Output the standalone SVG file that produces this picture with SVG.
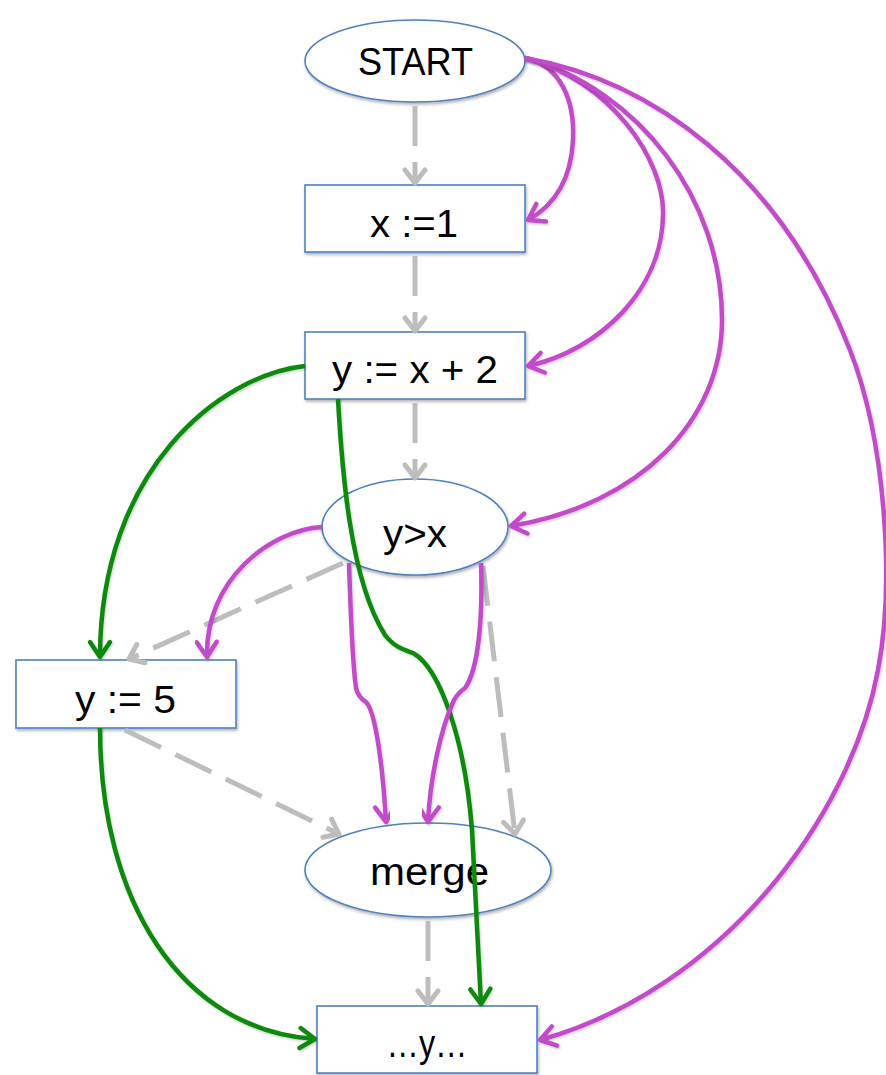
<svg xmlns="http://www.w3.org/2000/svg" width="886" height="1075" viewBox="0 0 886 1075">
  <style>
    .node { fill: #ffffff; stroke: #4f81bd; stroke-width: 1.6; filter: url(#shadow); }
    .label { font-family: "Liberation Sans", Arial, sans-serif; font-size: 38px; fill: #000000; text-anchor: middle; }
    .flow { fill: none; stroke: #bdbdbd; stroke-width: 5; stroke-dasharray: 40 16; marker-end: url(#arrowGray); }
    .def { fill: none; stroke: #0b8a0b; stroke-width: 4.5; marker-end: url(#arrowGreen); filter: url(#lineShadow); }
    .dep { fill: none; stroke: #c24bca; stroke-width: 4.5; marker-end: url(#arrowPurple); filter: url(#lineShadow); }
  </style>
  <defs>
    <filter id="shadow" x="-10%" y="-10%" width="130%" height="140%">
      <feDropShadow dx="1" dy="2" stdDeviation="1.5" flood-color="#000000" flood-opacity="0.3"/>
    </filter>
    <filter id="lineShadow" x="-10%" y="-10%" width="120%" height="120%">
      <feDropShadow dx="1" dy="1.5" stdDeviation="1" flood-color="#000000" flood-opacity="0.2"/>
    </filter>
    <marker id="arrowGray" markerUnits="userSpaceOnUse" viewBox="-18 -14 24 28" markerWidth="24" markerHeight="28" refX="0" refY="0" orient="auto" overflow="visible">
      <path d="M-13,-10 L0,0 L-13,10" fill="none" stroke="#bdbdbd" stroke-width="5" stroke-linecap="round" stroke-linejoin="round" stroke-dasharray="none"/>
    </marker>
    <marker id="arrowGreen" markerUnits="userSpaceOnUse" viewBox="-18 -14 24 28" markerWidth="24" markerHeight="28" refX="0" refY="0" orient="auto" overflow="visible">
      <path d="M-15,-10 L0,0 L-15,10" fill="none" stroke="#0b8a0b" stroke-width="4.5" stroke-linecap="round" stroke-linejoin="round"/>
    </marker>
    <marker id="arrowPurple" markerUnits="userSpaceOnUse" viewBox="-18 -14 24 28" markerWidth="24" markerHeight="28" refX="0" refY="0" orient="auto" overflow="visible">
      <path d="M-15,-10 L0,0 L-15,10" fill="none" stroke="#c24bca" stroke-width="4.5" stroke-linecap="round" stroke-linejoin="round"/>
    </marker>
  </defs>

  <rect x="0" y="0" width="886" height="1075" fill="#ffffff"/>

  <!-- nodes -->
  <g id="start">
    <ellipse class="node" cx="415" cy="61" rx="110" ry="41"/>
    <text class="label" x="415.5" y="75" textLength="115" lengthAdjust="spacingAndGlyphs">START</text>
  </g>
  <g id="assign-x">
    <rect class="node" x="305" y="185" width="220" height="67"/>
    <text class="label" x="414" y="237" textLength="88" lengthAdjust="spacingAndGlyphs">x :=1</text>
  </g>
  <g id="assign-y">
    <rect class="node" x="305" y="332" width="220" height="67"/>
    <text class="label" x="415" y="383" textLength="166" lengthAdjust="spacingAndGlyphs">y := x + 2</text>
  </g>
  <g id="test">
    <ellipse class="node" cx="415" cy="527" rx="93" ry="48"/>
    <text class="label" x="415" y="547" textLength="64" lengthAdjust="spacingAndGlyphs">y&gt;x</text>
  </g>
  <g id="assign-y5">
    <rect class="node" x="16" y="660" width="220" height="68"/>
    <text class="label" x="125.5" y="713" textLength="101" lengthAdjust="spacingAndGlyphs">y := 5</text>
  </g>
  <g id="merge">
    <ellipse class="node" cx="428" cy="870" rx="123" ry="47"/>
    <text class="label" x="429.5" y="885" textLength="119" lengthAdjust="spacingAndGlyphs">merge</text>
  </g>
  <g id="use-y">
    <rect class="node" x="317" y="1006" width="220" height="67"/>
    <text class="label" x="427" y="1057" textLength="81" lengthAdjust="spacingAndGlyphs">…y…</text>
  </g>

  <!-- connectors -->
  <g id="connectors">
    <!-- control flow -->
    <path class="flow" d="M415,106 V183"/>
    <path class="flow" d="M415,256 V331"/>
    <path class="flow" d="M415,403 V478"/>
    <path class="flow" d="M343,563 L129,659"/>
    <path class="flow" d="M483,566 L515,834"/>
    <path class="flow" d="M125,730 L339,834"/>
    <path class="flow" d="M428,921 V1004"/>

    <!-- definition to use -->
    <path class="def" d="M305,366 C220,375 100,470 100,657"/>
    <path class="def" d="M338,399 C342,470 350,580 385,635 C395,648 405,650 413,653 C440,668 465,740 472,830 C476,900 479,960 481,1004"/>
    <path class="def" d="M100,728 C100,900 180,1030 315,1039"/>

    <!-- dependences from START -->
    <path class="dep" d="M525,58 C560,65 575,100 573,140 C571,180 555,205 528,220"/>
    <path class="dep" d="M525,58 C610,80 665,160 663,215 C662,290 600,350 528,366"/>
    <path class="dep" d="M525,58 C640,90 722,200 722,320 C722,420 640,505 511,526"/>
    <path class="dep" d="M525,58 C650,80 780,170 850,350 C885,440 895,580 878,670 C850,820 720,990 540,1040"/>

    <!-- dependences from the test -->
    <path class="dep" d="M322,527 C270,530 205,580 207,657"/>
    <path class="dep" d="M349,563 C351,620 352,660 356,688 Q358,697 366,702 C376,712 383,770 386,822"/>
    <path class="dep" d="M481,563 C483,620 478,670 465,688 Q458,693 454,700 C440,730 430,780 428,822"/>
  </g>
</svg>
